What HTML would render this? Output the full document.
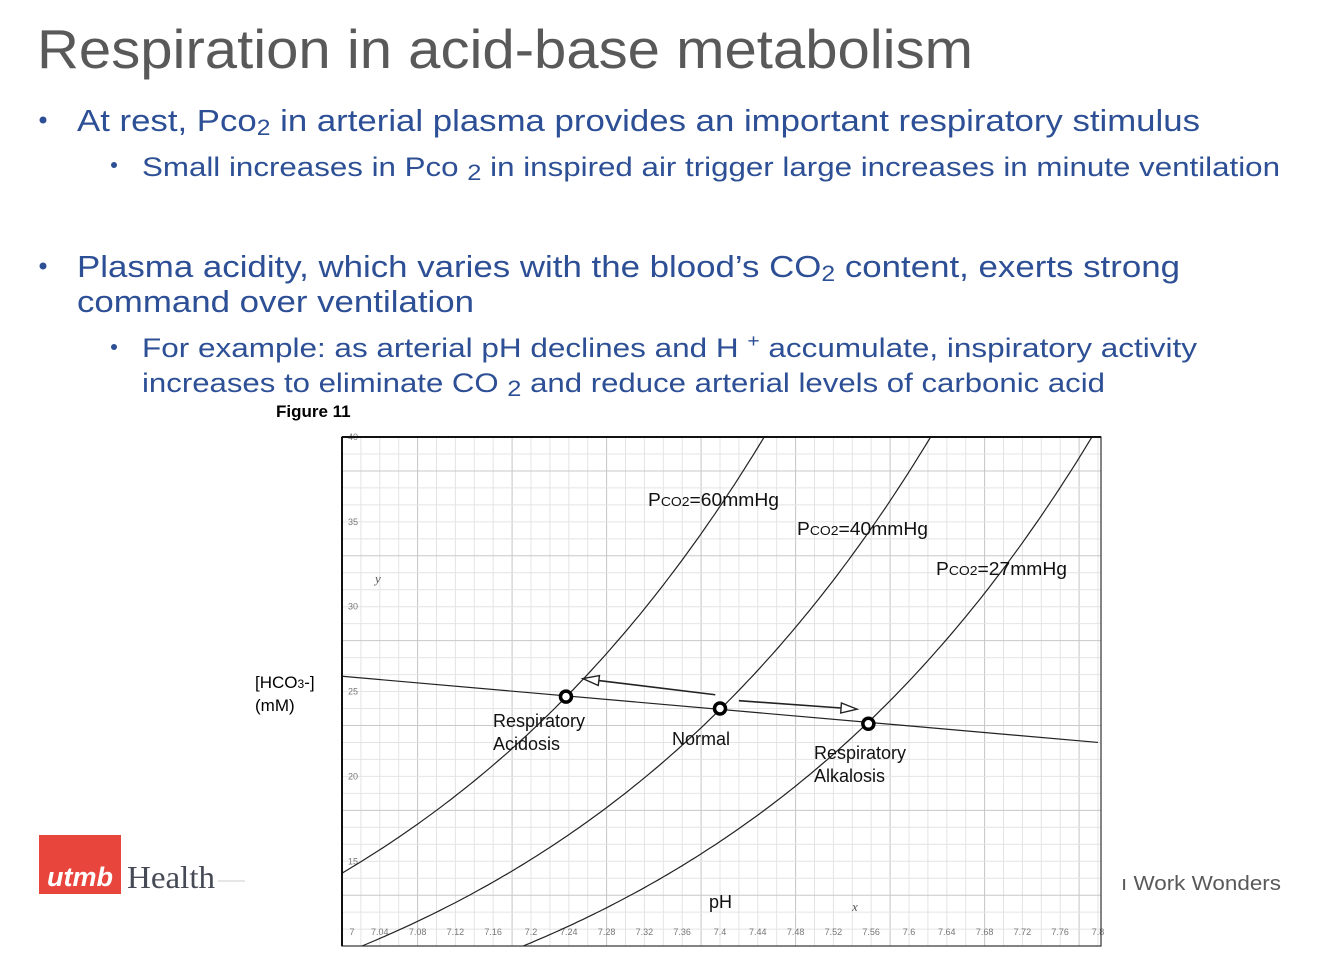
<!DOCTYPE html>
<html><head><meta charset="utf-8"><style>
html,body{margin:0;padding:0;background:#fff;overflow:hidden;width:1334px;height:958px}
svg{display:block;font-family:"Liberation Sans",sans-serif}
</style></head><body>
<svg width="1334" height="958" viewBox="0 0 1334 958" xmlns="http://www.w3.org/2000/svg">
<text x="37" y="68" font-size="55" fill="#595959" textLength="936" lengthAdjust="spacingAndGlyphs">Respiration in acid-base metabolism</text>
<g fill="#2d4f95">
<circle cx="43" cy="120" r="3.5"/>
<text x="77" y="131" font-size="31" textLength="1123" lengthAdjust="spacingAndGlyphs">At rest, Pco<tspan font-size="22" dy="4">2</tspan><tspan dy="-4"> in arterial plasma provides an important respiratory stimulus</tspan></text>
<circle cx="114" cy="165" r="3"/>
<text x="142" y="176" font-size="27" textLength="1138" lengthAdjust="spacingAndGlyphs">Small increases in Pco <tspan font-size="22" dy="4">2</tspan><tspan dy="-4"> in inspired air trigger large increases in minute ventilation</tspan></text>
<circle cx="43" cy="266" r="3.5"/>
<text x="77" y="277" font-size="31" textLength="1103" lengthAdjust="spacingAndGlyphs">Plasma acidity, which varies with the blood’s CO<tspan font-size="22" dy="4">2</tspan><tspan dy="-4"> content, exerts strong</tspan></text>
<text x="77" y="312" font-size="31" textLength="397" lengthAdjust="spacingAndGlyphs">command over ventilation</text>
<circle cx="114" cy="347" r="3"/>
<text x="142" y="357" font-size="27" textLength="1055" lengthAdjust="spacingAndGlyphs">For example: as arterial pH declines and H <tspan font-size="18" dy="-10">+</tspan><tspan dy="10"> accumulate, inspiratory activity</tspan></text>
<text x="142" y="392" font-size="27" textLength="963" lengthAdjust="spacingAndGlyphs">increases to eliminate CO <tspan font-size="22" dy="4">2</tspan><tspan dy="-4"> and reduce arterial levels of carbonic acid</tspan></text>
</g>
<g>
<text x="1121" y="890" font-size="20" fill="#595959" textLength="160" lengthAdjust="spacingAndGlyphs">ı Work Wonders</text>
<rect x="39" y="835" width="82" height="59" fill="#e8453c"/>
<text x="47" y="886" font-size="27" font-weight="bold" font-style="italic" fill="#fff">utmb</text>
<text x="127" y="888" font-size="32" fill="#454a55" font-family="Liberation Serif,serif" textLength="88" lengthAdjust="spacingAndGlyphs">Health</text>
<line x1="218" y1="881" x2="245" y2="881" stroke="#ccc" stroke-width="1"/>
</g>
<text x="276" y="417" font-size="17" font-weight="bold" fill="#000">Figure 11</text>
<text x="255" y="688" font-size="17" fill="#000">[HCO<tspan font-size="12">3</tspan>-]</text>
<text x="255" y="711" font-size="17" fill="#000">(mM)</text>
<g id="chart"></g>
</svg>
<script>
const pco2Values=[60,40,27];
const curveLabels=["Pco2=60mmHg","Pco2=40mmHg","Pco2=27mmHg"];
const pointPH=[7.237,7.40,7.557];
const pointHCO3=[24.7,24.0,23.1];
const bufferPH=[7.0,7.8];
const bufferHCO3=[25.9,22.0];
const xTicks=["7","7.04","7.08","7.12","7.16","7.2","7.24","7.28","7.32","7.36","7.4","7.44","7.48","7.52","7.56","7.6","7.64","7.68","7.72","7.76","7.8"];
const yTicks=[15,20,25,30,35,40];
const NS="http://www.w3.org/2000/svg";
const X0=342,X1=1101,Y0=437,Y1=946;
const xs=p=>X0+(p-7)*945;
const ys=v=>Y0+(40-v)*16.97;
const g=document.getElementById('chart');
function mk(t,a,par){const e=document.createElementNS(NS,t);for(const k in a)e.setAttribute(k,a[k]);(par||g).appendChild(e);return e;}
const bg=mk('rect',{x:X0,y:Y0,width:X1-X0,height:Y1-Y0,fill:'#fff'});


const defs=mk('defs',{});
const cp=mk('clipPath',{id:'cp'},defs);
mk('rect',{x:X0,y:Y0,width:X1-X0,height:Y1-Y0},cp);
const grid=mk('g',{stroke:'#e2e2e2','stroke-width':1});


for(let i=0;i<=40;i++){const x=xs(7+i*0.02);mk('line',{x1:x,y1:Y0,x2:x,y2:Y1,stroke:(i%5==4)?'#c4c4c4':'#e4e4e4'},grid);}
for(let v=10;v<=40;v+=1){const y=ys(v);mk('line',{x1:X0,y1:y,x2:X1,y2:y,stroke:(v%5==3)?'#c8c8c8':'#e4e4e4'},grid);}
xTicks.forEach((t,i)=>{const tx=mk('text',{x:xs(parseFloat(t))+(i==0?10:0),y:935,'font-size':9,fill:'#777','text-anchor':'middle'});tx.textContent=t;

});
yTicks.forEach(v=>{const tx=mk('text',{x:348,y:ys(v)+3,'font-size':9,fill:'#777'});tx.textContent=v;

});
const lay=mk('g',{'clip-path':'url(#cp)'});
pco2Values.forEach((pc,i)=>{let d='';for(let p=6.8;p<=8.0;p+=0.005){const h=0.03*pc*Math.pow(10,p-6.1);d+=(d?'L':'M')+xs(p).toFixed(1)+','+ys(h).toFixed(1);}
const c=mk('path',{d:d,fill:'none',stroke:'#222','stroke-width':1.2},lay);

});
const bl=mk('line',{x1:xs(bufferPH[0]),y1:ys(bufferHCO3[0]),x2:xs(bufferPH[1]),y2:ys(bufferHCO3[1]),stroke:'#222','stroke-width':1.2},lay);


mk('rect',{x:X0,y:Y0,width:X1-X0,height:Y1-Y0,fill:'none',stroke:'#333','stroke-width':1.2});
mk('line',{x1:X0,y1:Y0,x2:X0,y2:Y1,stroke:'#111','stroke-width':2});
mk('line',{x1:X0,y1:Y0,x2:X1,y2:Y0,stroke:'#111','stroke-width':2});
function arrow(p1,h1,p2,h2,name){const x1=xs(p1),y1=ys(h1)-7,x2=xs(p2),y2=ys(h2)-7;
const a=mk('g',{});


const dx=x2-x1,dy=y2-y1,L=Math.hypot(dx,dy),ux=dx/L,uy=dy/L;
const bx=x2-ux*16,by=y2-uy*16;
mk('line',{x1:x1,y1:y1,x2:bx,y2:by,stroke:'#222','stroke-width':1.6},a);
mk('polygon',{points:`${x2},${y2} ${bx-uy*5},${by+ux*5} ${bx+uy*5},${by-ux*5}`,fill:'#fff',stroke:'#222','stroke-width':1.4},a);}
arrow(pointPH[1]-0.005,pointHCO3[1]+0.4,pointPH[0]+0.018,pointHCO3[0]+0.65,'arrow-to-acidosis');
arrow(pointPH[1]+0.02,pointHCO3[1]+0.05,pointPH[2]-0.012,pointHCO3[2]+0.45,'arrow-to-alkalosis');
const pnames=['point-respiratory-acidosis','point-normal','point-respiratory-alkalosis'];
pointPH.forEach((p,i)=>{const c=mk('circle',{cx:xs(p),cy:ys(pointHCO3[i]),r:5.5,fill:'#fff',stroke:'#000','stroke-width':3.5});

});
const labs=[[648,506,curveLabels[0]],[797,535,curveLabels[1]],[936,575,curveLabels[2]]];
labs.forEach((l,i)=>{const t=mk('text',{x:l[0],y:l[1],'font-size':18,fill:'#111',textLength:131,lengthAdjust:'spacingAndGlyphs'});


const s=l[2];mk('tspan',{},t).textContent='P';const a=mk('tspan',{'font-size':13},t);a.textContent='CO2';mk('tspan',{},t).textContent=s.slice(4);});
function txt(x,y,s,name,extra){const t=mk('text',Object.assign({x:x,y:y,'font-size':18,fill:'#111'},extra||{}));t.textContent=s;

}
txt(493,727,'Respiratory','label-acidosis-1');txt(493,750,'Acidosis','label-acidosis-2');
txt(672,745,'Normal','label-normal');
txt(814,759,'Respiratory','label-alkalosis-1');txt(814,782,'Alkalosis','label-alkalosis-2');
txt(709,908,'pH','x-axis-title');
txt(375,583,'y','y-var',{'font-family':'Liberation Serif,serif','font-style':'italic','font-size':13,fill:'#555'});
txt(852,911,'x','x-var',{'font-family':'Liberation Serif,serif','font-style':'italic','font-size':13,fill:'#555'});
</script>
</body></html>
